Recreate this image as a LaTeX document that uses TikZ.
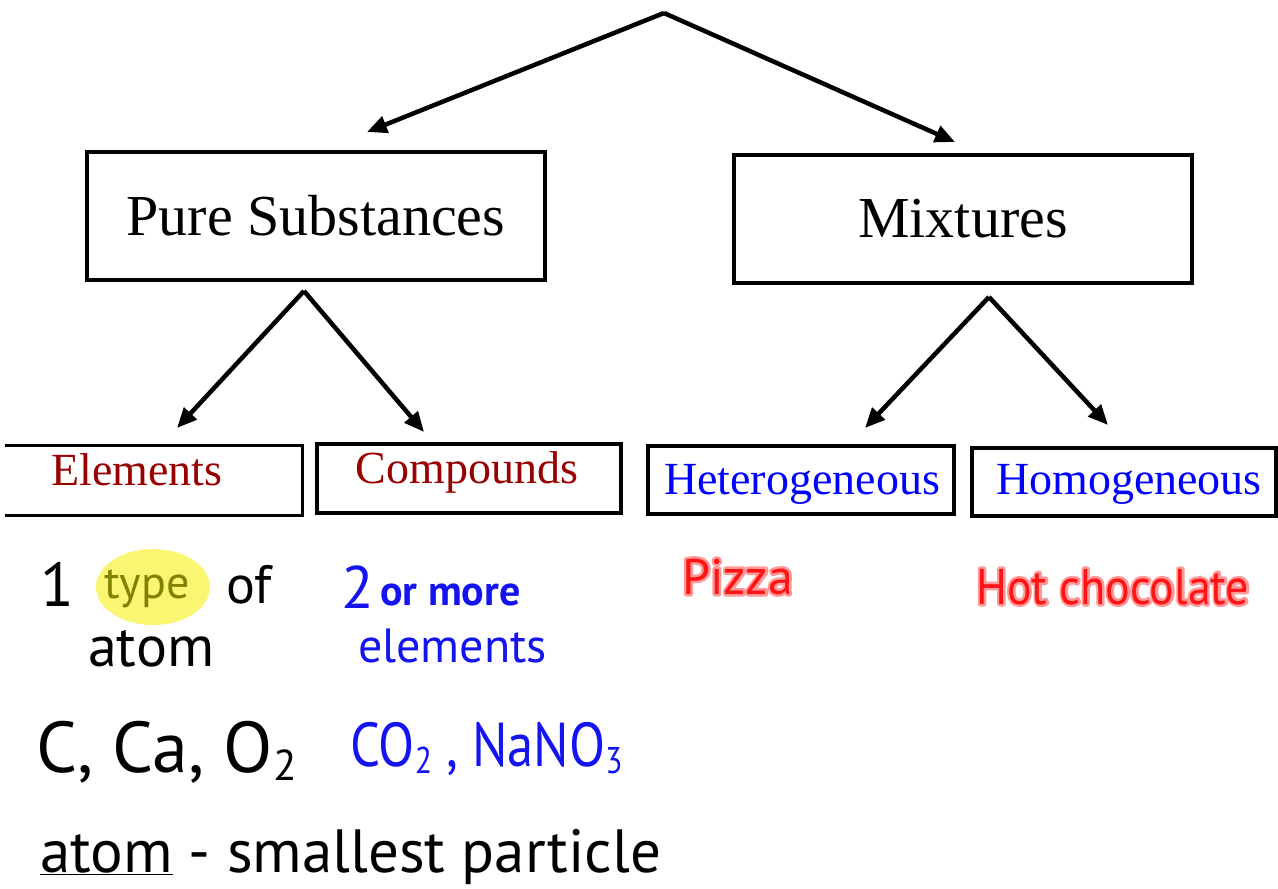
\documentclass[tikz,border=0pt]{standalone}
\usepackage{fontspec}
\setmainfont{Liberation Serif}
\newfontfamily\hand{PT Sans}
\usetikzlibrary{arrows.meta}
\definecolor{dred}{RGB}{153,0,0}
\definecolor{hblue}{RGB}{20,20,240}
\definecolor{hred}{RGB}{255,20,20}
\definecolor{hiyel}{RGB}{250,245,90}
\definecolor{olivetxt}{RGB}{130,130,0}
\newcommand\lowsub[1]{\raisebox{-0.12em}{\scalebox{0.6}{#1}}}
\newcommand\glowon{\special{pdf:literal direct 1 Tr 5 w 1 j 1 0.6 0.6 RG}}
\newcommand\glowoff{\special{pdf:literal direct 0 Tr 1 w}}
\tikzset{
  bigbox/.style={draw, line width=3.2pt, minimum width=458pt, minimum height=128pt, inner sep=0pt},
  smallbox/.style={line width=3.2pt, minimum height=67pt, inner sep=0pt},
  bigtxt/.style={font=\fontsize{58}{60}\selectfont},
  smalltxt/.style={font=\fontsize{46}{48}\selectfont, inner sep=0pt},
  link/.style={line width=4.5pt, -{Triangle[length=20pt,width=17pt]}},
  hw/.style={anchor=base west, inner sep=0pt},
}
\begin{document}
\begin{tikzpicture}[x=1pt,y=-1pt]
\useasboundingbox[fill=white] (0,0) rectangle (1278,889);

% top level
\coordinate (top) at (664,13);
\coordinate (psTip) at (367,132);
\coordinate (mxTip) at (955,142);
\node[bigbox, bigtxt] (ps) at (316,216) {Pure Substances};
\node[bigbox, bigtxt] (mx) at (963,219) {Mixtures};
\draw[link] (top) -- (psTip);
\draw[link] (top) -- (mxTip);

% second level arrows
\coordinate (psApex) at (304,291);
\coordinate (elTip) at (177,428);
\coordinate (coTip) at (424,432);
\coordinate (mxApex) at (989,297);
\coordinate (heTip) at (865,428);
\coordinate (hoTip) at (1108,425);
\draw[link] (psApex) -- (elTip);
\draw[link] (psApex) -- (coTip);
\draw[link] (mxApex) -- (heTip);
\draw[link] (mxApex) -- (hoTip);

% boxes of the second level
\node[smallbox, minimum width=294pt] (el) at (154,480.5) {};
\draw[line width=3.2pt] (el.north west) -- (el.north east) -- (el.south east) -- (el.south west);
\node[smalltxt, text=dred, anchor=base] (elT) at (137,485) {Elements};

\node[smallbox, draw, minimum width=304pt, minimum height=69pt] (co) at (469,478.5) {};
\node[smalltxt, text=dred, anchor=base] (coT) at (467,483) {Compounds};

\node[smallbox, draw, minimum width=306pt, minimum height=68pt] (he) at (801,480) {};
\node[smalltxt, text=blue, anchor=base] (heT) at (802,494) {Heterogeneous};

\node[smallbox, draw, minimum width=304pt, minimum height=68pt] (ho) at (1124,482) {};
\node[smalltxt, text=blue, anchor=base] (hoT) at (1129,494) {Homogeneous};

% handwritten notes
\fill[hiyel, opacity=0.85] (153,587) ellipse [x radius=57pt, y radius=38pt];
\node[hw, font=\hand\fontsize{62}{62}\selectfont] (one) at (40,606) {1};
\node[hw, font=\hand\fontsize{46}{46}\selectfont, text=olivetxt] (type) at (104,598) {type};
\node[hw, font=\hand\fontsize{54}{54}\selectfont] (of) at (226,603) {of};
\node[hw, font=\hand\fontsize{58}{58}\selectfont] (atom1) at (88,666) {atom};

\node[hw, font=\hand\fontsize{60}{60}\selectfont, text=hblue] (two) at (341,608) {2};
\node[hw, font=\hand\bfseries\fontsize{42}{42}\selectfont, text=hblue] (ormore) at (380,605) {or more};
\node[hw, font=\hand\fontsize{48}{48}\selectfont, text=hblue] (elem) at (358,662) {elements};

\node[hw, font=\hand\fontsize{72}{72}\selectfont] (ex1) at (36,772) {C, Ca, O\lowsub{2}};
\node[hw, font=\hand\fontsize{62}{62}\selectfont, text=hblue] (ex2) at (350,766) {\scalebox{0.85}[1]{CO\lowsub{2} , NaNO\lowsub{3}}};

\node[hw, font=\hand\fontsize{61}{61}\selectfont] (defn) at (40,872) {\underline{atom} - smallest particle};

\node[hw, font=\hand\fontsize{50}{50}\selectfont, text=hred] (pizzaGlow) at (682,594) {\glowon Pizza\glowoff};
\node[hw, font=\hand\fontsize{50}{50}\selectfont, text=hred] (pizza) at (682,594) {Pizza};
\node[hw, font=\hand\fontsize{50}{50}\selectfont, text=hred] (hotGlow) at (976,604) {\glowon\scalebox{0.92}[1]{Hot chocolate}\glowoff};
\node[hw, font=\hand\fontsize{50}{50}\selectfont, text=hred] (hot) at (976,604) {\scalebox{0.92}[1]{Hot chocolate}};
\end{tikzpicture}
\end{document}
